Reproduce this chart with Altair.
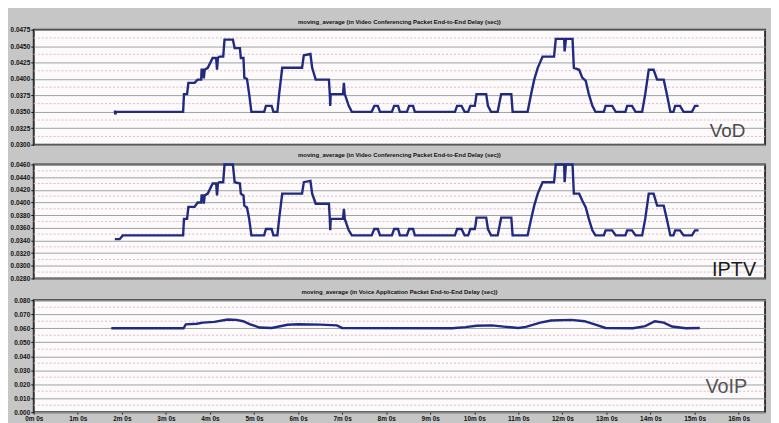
import json
import altair as alt
import pandas as pd

# ---------------- data ----------------
vod_t = [1.84, 1.85, 1.87, 3.39, 3.41, 3.48, 3.51, 3.65, 3.72, 3.80, 3.81, 3.85, 3.86, 3.88, 3.95, 4.06, 4.14, 4.16, 4.18, 4.21,
         4.30, 4.33, 4.52, 4.56, 4.68, 4.70, 4.76, 4.78, 4.84, 4.89, 4.94, 5.23, 5.27, 5.40, 5.44, 5.53, 5.57, 5.64, 6.09, 6.13,
         6.28, 6.32, 6.40, 6.70, 6.72, 6.73, 6.74, 7.02, 7.04, 7.06, 7.15, 7.22, 7.67, 7.73, 7.81, 7.86, 8.13, 8.18, 8.27, 8.31,
         8.47, 8.52, 8.61, 8.65, 9.56, 9.61, 9.71, 9.78, 9.86, 9.91, 10.01, 10.03, 10.05, 10.27, 10.31, 10.38, 10.53, 10.61, 10.84, 10.87,
         11.21, 11.29, 11.36, 11.44, 11.55, 11.66, 11.81, 11.85, 12.04, 12.05, 12.08, 12.23, 12.26, 12.38, 12.45, 12.53, 12.60, 12.68, 12.75, 12.94,
         12.98, 13.13, 13.21, 13.43, 13.47, 13.58, 13.66, 13.81, 13.88, 13.96, 14.07, 14.15, 14.30, 14.37, 14.45, 14.52, 14.56, 14.67, 14.75, 14.94,
         15.01, 15.09]
vod_v = [0.0352, 0.0346, 0.0350, 0.0350, 0.0377, 0.0377, 0.0394, 0.0394, 0.0399, 0.0399, 0.0414, 0.0414, 0.0401, 0.0414, 0.0417, 0.0432, 0.0432, 0.0414, 0.0432, 0.0434,
         0.0434, 0.0460, 0.0460, 0.0447, 0.0447, 0.0432, 0.0432, 0.0402, 0.0400, 0.0377, 0.0350, 0.0350, 0.0359, 0.0359, 0.0350, 0.0350, 0.0377, 0.0417, 0.0417, 0.0436,
         0.0438, 0.0417, 0.0399, 0.0399, 0.0377, 0.0359, 0.0377, 0.0377, 0.0394, 0.0377, 0.0359, 0.0350, 0.0350, 0.0359, 0.0359, 0.0350, 0.0350, 0.0359, 0.0359, 0.0350,
         0.0350, 0.0359, 0.0359, 0.0350, 0.0350, 0.0359, 0.0359, 0.0350, 0.0350, 0.0359, 0.0359, 0.0367, 0.0377, 0.0377, 0.0359, 0.0350, 0.0350, 0.0377, 0.0377, 0.0350,
         0.0350, 0.0377, 0.0399, 0.0417, 0.0434, 0.0434, 0.0434, 0.0461, 0.0461, 0.0442, 0.0461, 0.0461, 0.0417, 0.0414, 0.0402, 0.0397, 0.0377, 0.0359, 0.0350, 0.0350,
         0.0359, 0.0359, 0.0350, 0.0350, 0.0359, 0.0359, 0.0350, 0.0350, 0.0377, 0.0414, 0.0414, 0.0399, 0.0399, 0.0377, 0.0350, 0.0350, 0.0359, 0.0359, 0.0350, 0.0350,
         0.0359, 0.0359]

iptv_t = [1.84, 1.95, 2.02, 3.39, 3.41, 3.48, 3.51, 3.65, 3.72, 3.80, 3.81, 3.85, 3.86, 3.88, 3.95, 4.06, 4.14, 4.16, 4.18, 4.21,
          4.30, 4.33, 4.52, 4.56, 4.68, 4.70, 4.76, 4.78, 4.84, 4.89, 4.94, 5.23, 5.27, 5.40, 5.44, 5.53, 5.57, 5.64, 6.09, 6.13,
          6.28, 6.32, 6.40, 6.70, 6.72, 6.73, 6.74, 7.02, 7.04, 7.06, 7.15, 7.22, 7.67, 7.73, 7.81, 7.86, 8.13, 8.18, 8.27, 8.31,
          8.47, 8.52, 8.61, 8.65, 9.56, 9.61, 9.71, 9.78, 9.86, 9.91, 10.01, 10.03, 10.05, 10.27, 10.31, 10.38, 10.53, 10.61, 10.84, 10.87,
          11.21, 11.29, 11.36, 11.44, 11.55, 11.66, 11.81, 11.85, 12.04, 12.05, 12.08, 12.23, 12.26, 12.38, 12.45, 12.53, 12.60, 12.68, 12.75, 12.94,
          12.98, 13.13, 13.21, 13.43, 13.47, 13.58, 13.66, 13.81, 13.88, 13.96, 14.07, 14.15, 14.30, 14.37, 14.45, 14.52, 14.56, 14.67, 14.75, 14.94,
          15.01, 15.09]
iptv_v = [0.0342, 0.0342, 0.0348, 0.0348, 0.0374, 0.0374, 0.0393, 0.0393, 0.0400, 0.0400, 0.0411, 0.0411, 0.0398, 0.0411, 0.0414, 0.0430, 0.0430, 0.0411, 0.0430, 0.0432,
          0.0432, 0.0460, 0.0460, 0.0432, 0.0430, 0.0414, 0.0411, 0.0395, 0.0392, 0.0374, 0.0348, 0.0348, 0.0358, 0.0358, 0.0348, 0.0348, 0.0374, 0.0414, 0.0414, 0.0432,
          0.0434, 0.0414, 0.0398, 0.0398, 0.0374, 0.0356, 0.0374, 0.0374, 0.0390, 0.0374, 0.0356, 0.0348, 0.0348, 0.0358, 0.0358, 0.0348, 0.0348, 0.0358, 0.0358, 0.0348,
          0.0348, 0.0358, 0.0358, 0.0348, 0.0348, 0.0358, 0.0358, 0.0348, 0.0348, 0.0358, 0.0358, 0.0365, 0.0376, 0.0376, 0.0358, 0.0348, 0.0348, 0.0376, 0.0376, 0.0348,
          0.0348, 0.0374, 0.0395, 0.0414, 0.0432, 0.0432, 0.0432, 0.0460, 0.0460, 0.0432, 0.0460, 0.0460, 0.0414, 0.0414, 0.0403, 0.0392, 0.0374, 0.0356, 0.0348, 0.0348,
          0.0356, 0.0356, 0.0348, 0.0348, 0.0356, 0.0356, 0.0348, 0.0348, 0.0374, 0.0414, 0.0414, 0.0395, 0.0395, 0.0374, 0.0348, 0.0348, 0.0356, 0.0356, 0.0348, 0.0348,
          0.0356, 0.0356]

voip_t = [1.76, 3.40, 3.45, 3.70, 3.84, 4.10, 4.40, 4.60, 4.75, 4.90, 5.12, 5.40, 5.76, 6.00, 6.50, 6.88, 7.00, 9.50, 9.80, 10.05,
          10.40, 10.72, 11.00, 11.17, 11.50, 11.74, 12.20, 12.50, 12.75, 12.98, 13.60, 13.88, 14.10, 14.30, 14.49, 14.80, 15.12]
voip_v = [0.0600, 0.0600, 0.0628, 0.0632, 0.0640, 0.0645, 0.0662, 0.0660, 0.0650, 0.0630, 0.0605, 0.0602, 0.0625, 0.0628, 0.0626, 0.0620, 0.0602, 0.0600, 0.0608, 0.0618,
          0.0620, 0.0610, 0.0602, 0.0610, 0.0640, 0.0655, 0.0660, 0.0650, 0.0625, 0.0602, 0.0600, 0.0615, 0.0650, 0.0640, 0.0612, 0.0600, 0.0602]

x_ticks = list(range(17))
x_tick_labels = ["0m 0s", "1m 0s", "2m 0s", "3m 0s", "4m 0s", "5m 0s", "6m 0s", "7m 0s", "8m 0s",
                 "9m 0s", "10m 0s", "11m 0s", "12m 0s", "13m 0s", "14m 0s", "15m 0s", "16m 0s"]
vod_ticks = [0.0300, 0.0325, 0.0350, 0.0375, 0.0400, 0.0425, 0.0450, 0.0475]
iptv_ticks = [0.0280, 0.0300, 0.0320, 0.0340, 0.0360, 0.0380, 0.0400, 0.0420, 0.0440, 0.0460]
voip_ticks = [0.000, 0.010, 0.020, 0.030, 0.040, 0.050, 0.060, 0.070, 0.080]

video_title = "moving_average (in Video Conferencing Packet End-to-End Delay (sec))"
voice_title = "moving_average (in Voice Application Packet End-to-End Delay (sec))"
panel_labels = ["VoD", "IPTV", "VoIP"]

# ---------------- chart ----------------
W = 738
FONT = "Liberation Sans"
LINE = "#1f2a80"
X_MAX = 16.6


def panel(t, v, ticks, fmt, title, label, h, show_x, lab_x, lab_y, lab_size, lab_color):
    df = pd.DataFrame({"t": t, "v": v})
    minors = [(a + b) / 2 for a, b in zip(ticks[:-1], ticks[1:])]
    ys = alt.Scale(domain=[ticks[0], ticks[-1]], nice=False, zero=False)
    xs = alt.Scale(domain=[0, X_MAX], nice=False)
    yaxis = alt.Axis(values=ticks, format=fmt, title=None, grid=True, gridColor="#a0a0a0",
                     gridWidth=1, domain=False, tickColor="#111", tickSize=3,
                     labelFont=FONT, labelFontSize=6.5, labelFontWeight="bold", labelColor="#111",
                     labelPadding=1, labelOverlap=False)
    if show_x:
        expr = json.dumps(x_tick_labels) + "[round(datum.value)]"
        xaxis = alt.Axis(values=x_ticks, labelExpr=expr, title=None, grid=False, domain=False,
                         tickColor="#222", tickSize=2, labelFont=FONT, labelFontSize=6.5,
                         labelFontWeight="bold", labelColor="#111", labelPadding=1,
                         labelOverlap=False, labelFlush=False)
    else:
        xaxis = None
    minor = alt.Chart(pd.DataFrame({"g": minors})).mark_rule(
        color="#e2b6c2", strokeDash=[2, 2], strokeWidth=1
    ).encode(y=alt.Y("g:Q", scale=ys, axis=yaxis))
    line = alt.Chart(df).mark_line(color=LINE, strokeWidth=2.4).encode(
        x=alt.X("t:Q", scale=xs, axis=xaxis),
        y=alt.Y("v:Q", scale=ys, axis=yaxis),
    )
    txt = alt.Chart(pd.DataFrame({"s": [label]})).mark_text(
        align="right", baseline="alphabetic", font=FONT, fontSize=lab_size, color=lab_color
    ).encode(x=alt.value(lab_x), y=alt.value(lab_y), text="s:N")
    return alt.layer(minor, line, txt).properties(
        width=W, height=h,
        title=alt.TitleParams(title, fontSize=6, font=FONT, fontWeight="bold", color="#111",
                              offset=2, anchor="middle", frame="group"),
    )


p1 = panel(vod_t, vod_v, vod_ticks, ".4f", video_title, panel_labels[0], 116, False, W - 20, 108, 19, "#4a4a4a")
p2 = panel(iptv_t, iptv_v, iptv_ticks, ".4f", video_title, panel_labels[1], 115, False, W - 9, 113, 20, "#1a1a1a")
p3 = panel(voip_t, voip_v, voip_ticks, ".3f", voice_title, panel_labels[2], 113, True, W - 18, 94, 20, "#555555")

chart = alt.vconcat(alt.vconcat(p1, p2, spacing=1), p3, spacing=5).configure(
    background="#c6c6c6",
    padding={"left": 1, "top": 8, "right": 4, "bottom": 0},
).configure_view(stroke="#333333", strokeWidth=2, fill="#fdfafc")

chart.save("out.html", embed_options={"renderer": "svg", "actions": False})
